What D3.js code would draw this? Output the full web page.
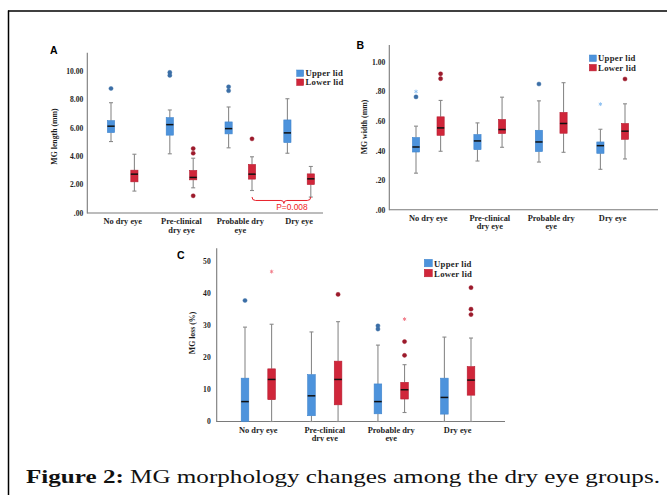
<!DOCTYPE html>
<html><head><meta charset="utf-8">
<script src="https://cdn.jsdelivr.net/npm/d3@7"></script>
<style>html,body{margin:0;padding:0;background:#fff;}svg{display:block;}</style>
</head><body>
<script>
// ---------- data ----------
const categories = ["No dry eye", "Pre-clinical dry eye", "Probable dry eye", "Dry eye"];
const categoryLines = [["No dry eye"], ["Pre-clinical", "dry eye"], ["Probable dry", "eye"], ["Dry eye"]];
const lids = ["Upper lid", "Lower lid"];

// [whisker low, Q1, median, Q3, whisker high]
const lengthUpper = [[5.02,5.65,6.1,6.49,7.75],[4.16,5.47,6.21,6.7,7.24],[4.58,5.56,5.93,6.4,7.45],[4.2,4.95,5.63,6.54,8.03]];
const lengthLower = [[1.54,2.19,2.73,3.01,4.13],[1.77,2.33,2.5,2.99,3.85],[1.58,2.38,2.73,3.41,3.95],[1.12,2.0,2.4,2.75,3.27]];
const lengthUpperOut = [[0,8.75,"o"],[1,9.88,"o"],[1,9.67,"o"],[2,8.87,"o"],[2,8.59,"o"]];
const lengthLowerOut = [[1,4.53,"o"],[1,4.2,"o"],[1,1.21,"o"],[2,5.21,"o"]];

const widthUpper = [[0.248,0.391,0.425,0.489,0.566],[0.33,0.407,0.466,0.509,0.588],[0.323,0.394,0.459,0.538,0.737],[0.274,0.382,0.434,0.459,0.545]];
const widthLower = [[0.396,0.504,0.554,0.629,0.74],[0.423,0.516,0.543,0.611,0.762],[0.389,0.518,0.584,0.659,0.86],[0.344,0.477,0.532,0.584,0.717]];
const widthUpperOut = [[0,0.80,"*"],[0,0.764,"o"],[2,0.851,"o"],[3,0.715,"*"]];
const widthLowerOut = [[0,0.92,"o"],[0,0.887,"o"],[3,0.885,"o"]];

const lossUpper = [[0,0,6.2,13.5,29.4],[0,1.8,8.0,14.6,27.9],[0,2.4,6.2,11.7,23.8],[0,2.3,7.5,13.5,26.3]];
const lossLower = [[0,6.8,13.1,16.4,30.3],[0,5.2,13.1,18.8,31.1],[2.8,7.0,9.9,12.2,17.7],[0,8.2,12.9,17.1,26.0]];
const lossUpperOut = [[0,37.7,"o"],[2,29.8,"o"],[2,28.8,"o"]];
const lossLowerOut = [[0,46.7,"*"],[1,39.6,"o"],[2,31.9,"*"],[2,24.9,"o"],[2,20.6,"o"],[3,41.7,"o"],[3,35.0,"o"],[3,33.3,"o"]];

const lengthTicks = [0, 2, 4, 6, 8, 10];
const widthTicks = [0, 0.2, 0.4, 0.6, 0.8, 1.0];
const lossTicks = [0, 10, 20, 30, 40, 50];

const pValueLabel = "P=0.008";
const captionBold = "Figure 2:";
const captionText = " MG morphology changes among the dry eye groups.";

// ---------- styles ----------
const C = {
  upper: "#4d93dc", upperStroke: "#3f84cc", lower: "#d0263a", lowerStroke: "#b51d30",
  upperOut: "#3b6ea6", lowerOut: "#9c1a2b", upperStar: "#8cc0f0", lowerStar: "#f07a88",
  whisker: "#8a8a8a", axis: "#7a7a7a", text: "#1e1e1e"
};
const serif = "'Liberation Serif', 'Times New Roman', serif";

const W = 667, H = 495;
const svg = d3.select("body").append("svg").attr("width", W).attr("height", H);

// frame
svg.append("line").attr("x1", 8.5).attr("x2", 8.5).attr("y1", 10.5).attr("y2", H).attr("stroke", "#000").attr("stroke-width", 1.5);
svg.append("line").attr("x1", 8).attr("x2", W).attr("y1", 11).attr("y2", 11).attr("stroke", "#000").attr("stroke-width", 1.5);

function fmtDec(v) { const s = d3.format(".2f")(v); return s.startsWith("0") ? s.slice(1) : s; }

function drawPanel(cfg) {
  const g = svg.append("g");
  const y = d3.scaleLinear().domain([0, cfg.yMax]).range([cfg.y0, cfg.yMaxPx]);
  const x = d3.scalePoint().domain(categories).range(cfg.catRange);
  const sub = d3.scalePoint().domain(lids).range([-cfg.offset, cfg.offset]);
  const bw = cfg.boxW, cap = 4;

  // axes
  const yAxis = d3.axisLeft(y).tickValues(cfg.ticks).tickSize(0).tickPadding(cfg.tickPad).tickFormat(cfg.fmt);
  const ya = g.append("g").attr("transform", `translate(${cfg.x0},0)`).call(yAxis);
  ya.select(".domain").remove();
  ya.selectAll("text").attr("font-family", serif).attr("font-weight", "bold").attr("font-size", 7.6).attr("fill", C.text);
  g.append("line").attr("x1", cfg.x0).attr("x2", cfg.x0).attr("y1", cfg.yTop).attr("y2", cfg.y0 + 0.5).attr("stroke", C.axis).attr("stroke-width", 1.1);
  g.append("line").attr("x1", cfg.x0).attr("x2", cfg.xEnd).attr("y1", cfg.y0).attr("y2", cfg.y0).attr("stroke", C.axis).attr("stroke-width", 1.1);

  // category labels
  const lab = g.append("g").attr("clip-path", cfg.clip ? `url(#${cfg.clip})` : null);
  categories.forEach((c, i) => {
    const t = lab.append("text").attr("x", x(c)).attr("y", cfg.y0 + 11).attr("text-anchor", "middle")
      .attr("font-family", serif).attr("font-weight", "bold").attr("font-size", 8.4).attr("fill", C.text);
    categoryLines[i].forEach((ln, k) => t.append("tspan").attr("x", x(c)).attr("dy", k === 0 ? 0 : 8.6).text(ln));
  });

  // y title
  g.append("text").attr("transform", `translate(${cfg.titleX},${cfg.titleY}) rotate(-90)`).attr("text-anchor", "middle")
    .attr("font-family", serif).attr("font-weight", "bold").attr("font-size", 7.8).attr("fill", C.text).text(cfg.title);

  // panel letter
  g.append("text").attr("x", cfg.letterX).attr("y", cfg.letterY).attr("font-family", "'Liberation Sans', Arial, sans-serif")
    .attr("font-weight", "bold").attr("font-size", 10.5).attr("fill", "#000").text(cfg.letter);

  // boxes
  const series = [
    {lid: lids[0], stats: cfg.upper, out: cfg.upperOut, fill: C.upper, stroke: C.upperStroke, oc: C.upperOut, sc: C.upperStar},
    {lid: lids[1], stats: cfg.lower, out: cfg.lowerOut, fill: C.lower, stroke: C.lowerStroke, oc: C.lowerOut, sc: C.lowerStar}
  ];
  series.forEach(s => {
    s.stats.forEach((st, i) => {
      const cx = x(categories[i]) + sub(s.lid);
      const [lo, q1, md, q3, hi] = st;
      g.append("line").attr("x1", cx).attr("x2", cx).attr("y1", y(hi)).attr("y2", y(q3)).attr("stroke", C.whisker).attr("stroke-width", 1.1);
      g.append("line").attr("x1", cx).attr("x2", cx).attr("y1", y(q1)).attr("y2", y(lo)).attr("stroke", C.whisker).attr("stroke-width", 1.1);
      g.append("line").attr("x1", cx - cap / 2).attr("x2", cx + cap / 2).attr("y1", y(hi)).attr("y2", y(hi)).attr("stroke", C.whisker).attr("stroke-width", 1.1);
      g.append("line").attr("x1", cx - cap / 2).attr("x2", cx + cap / 2).attr("y1", y(lo)).attr("y2", y(lo)).attr("stroke", C.whisker).attr("stroke-width", 1.1);
      g.append("rect").attr("x", cx - bw / 2).attr("y", y(q3)).attr("width", bw).attr("height", Math.max(0.5, y(q1) - y(q3)))
        .attr("fill", s.fill).attr("stroke", s.stroke).attr("stroke-width", 0.6);
      g.append("line").attr("x1", cx - bw / 2).attr("x2", cx + bw / 2).attr("y1", y(md)).attr("y2", y(md)).attr("stroke", "#111").attr("stroke-width", 1.5);
    });
    s.out.forEach(([ci, v, type]) => {
      const cx = x(categories[ci]) + sub(s.lid);
      if (type === "o") {
        g.append("circle").attr("cx", cx).attr("cy", y(v)).attr("r", 2.1).attr("fill", s.oc).attr("stroke", s.oc).attr("stroke-width", 0.4);
      } else {
        g.append("path").attr("d", d3.symbol(d3.symbolAsterisk, 10)()).attr("transform", `translate(${cx},${y(v)})`)
          .attr("stroke", s.sc).attr("stroke-width", 0.9).attr("fill", "none");
      }
    });
  });

  // legend
  const lg = g.append("g").attr("transform", `translate(${cfg.legX},${cfg.legY})`);
  series.forEach((s, k) => {
    lg.append("rect").attr("x", 0).attr("y", k * cfg.legGap).attr("width", cfg.legSq).attr("height", cfg.legSq - 0.5)
      .attr("fill", s.fill).attr("stroke", s.stroke).attr("stroke-width", 0.5);
    lg.append("text").attr("x", cfg.legSq + 1.8).attr("y", k * cfg.legGap + cfg.legSq - 0.6)
      .attr("font-family", serif).attr("font-weight", "bold").attr("font-size", 8.7).attr("letter-spacing", 0.25).attr("fill", C.text).text(s.lid);
  });
  return {x, y, sub, g};
}

// clip for panel C labels (cut off at bottom in reference)
svg.append("defs").append("clipPath").attr("id", "clipC").append("rect").attr("x", 0).attr("y", 0).attr("width", W).attr("height", 441.5);

const A = drawPanel({
  yMax: 10, y0: 213, yMaxPx: 70.7, yTop: 52.7, x0: 87.3, xEnd: 323, catRange: [122.7, 299.1], offset: 11.7, boxW: 7.2,
  ticks: lengthTicks, fmt: fmtDec, tickPad: 4, title: "MG length (mm)", titleX: 57, titleY: 136.5,
  letter: "A", letterX: 50, letterY: 53.5, upper: lengthUpper, lower: lengthLower, upperOut: lengthUpperOut, lowerOut: lengthLowerOut,
  legX: 296.7, legY: 70, legSq: 7, legGap: 9
});
const B = drawPanel({
  yMax: 1, y0: 209.8, yMaxPx: 62, yTop: 45, x0: 389.3, xEnd: 658, catRange: [428.3, 612.7], offset: 12.3, boxW: 7.2,
  ticks: widthTicks, fmt: fmtDec, tickPad: 4, title: "MG width (mm)", titleX: 366.5, titleY: 127,
  letter: "B", letterX: 356.5, letterY: 48.5, upper: widthUpper, lower: widthLower, upperOut: widthUpperOut, lowerOut: widthLowerOut,
  legX: 589.3, legY: 55, legSq: 7, legGap: 9.4
});
const Cp = drawPanel({
  yMax: 50, y0: 421.5, yMaxPx: 261, yTop: 248.3, x0: 216.7, xEnd: 505, catRange: [258.3, 457.7], offset: 13.3, boxW: 7.6,
  ticks: lossTicks, fmt: d3.format("d"), tickPad: 6, title: "MG loss (%)", titleX: 194.5, titleY: 333,
  letter: "C", letterX: 177, letterY: 258.5, upper: lossUpper, lower: lossLower, upperOut: lossUpperOut, lowerOut: lossLowerOut,
  legX: 424.3, legY: 259.3, legSq: 8, legGap: 10, clip: "clipC"
});

// P-value bracket in panel A (between probable & dry eye, lower lid)
(function () {
  const xa = A.x(categories[2]) + A.sub(lids[1]);
  const xb = A.x(categories[3]) + A.sub(lids[1]);
  const yb = A.y(0.88), mid = (xa + xb) / 2 + 2.5;
  const path = `M${xa},${yb - 3.5} Q${xa},${yb} ${xa + 3.5},${yb} L${mid - 3},${yb} Q${mid},${yb} ${mid},${yb + 3} Q${mid},${yb} ${mid + 3},${yb} L${xb - 3.5},${yb} Q${xb},${yb} ${xb},${yb - 3.5}`;
  A.g.append("path").attr("d", path).attr("fill", "none").attr("stroke", "#e8202a").attr("stroke-width", 1);
  A.g.append("text").attr("x", mid + 8).attr("y", yb + 10).attr("text-anchor", "middle")
    .attr("font-family", "'Liberation Sans', Arial, sans-serif").attr("font-size", 8.4).attr("fill", "#f01c24").text(pValueLabel);
})();

// caption
const cap = svg.append("text").attr("x", 26).attr("y", 483).attr("font-family", serif).attr("font-size", 19).attr("fill", "#111")
  .attr("textLength", 634).attr("lengthAdjust", "spacingAndGlyphs");
cap.append("tspan").attr("font-weight", "bold").text(captionBold);
cap.append("tspan").text(captionText);
</script>
</body></html>
